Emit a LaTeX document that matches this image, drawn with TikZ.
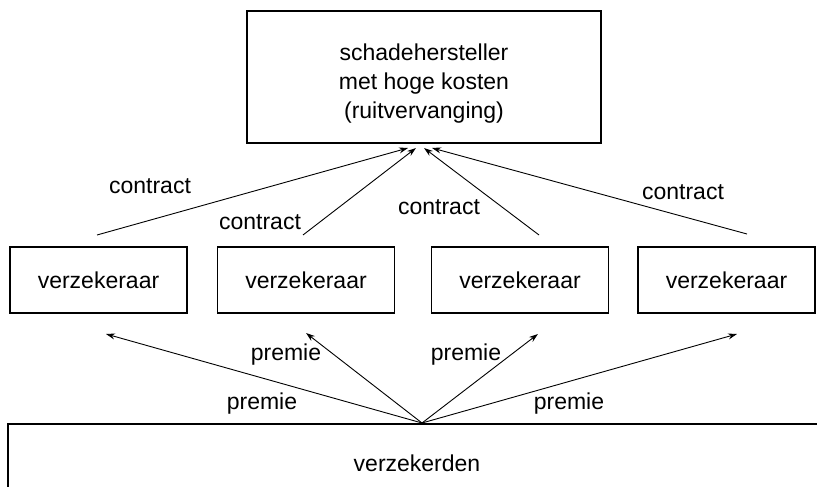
\documentclass[tikz,border=0pt]{standalone}
\usepackage{fontspec}
\setmainfont{Liberation Sans}
\usetikzlibrary{arrows.meta}

\begin{document}
\begin{tikzpicture}[
                        x=1pt,
                        y=-1pt,
                        >={Stealth[length=9pt,width=6pt]},
                        font=\fontsize{23}{27}\selectfont
                    ]
                    \tikzstyle{partij}=[draw=black,line width=1.5pt,text=black,align=center,inner sep=0pt]
                    \tikzstyle{pijl}=[->,line width=0.9pt]
                    \tikzstyle{tekst}=[inner sep=0pt,text=black]

                    \useasboundingbox (0,0) rectangle (817,487);
                    \clip (0,0) rectangle (817,487);

                    \node[partij,minimum width=354pt,minimum height=132pt,font=\fontsize{23}{29}\selectfont] (H) at (424,77)
                        {\rule{0pt}{29pt}schadehersteller\\met hoge kosten\\(ruitvervanging)};
                    \node[partij,minimum width=177pt,minimum height=66pt] (V1) at (98.5,280)  {verzekeraar};
                    \node[partij,minimum width=177pt,minimum height=66pt] (V2) at (306,280)   {verzekeraar};
                    \node[partij,minimum width=177pt,minimum height=66pt] (V3) at (520,280)   {verzekeraar};
                    \node[partij,minimum width=177pt,minimum height=66pt] (V4) at (726.5,280) {verzekeraar};
                    \node[partij,line width=2pt,minimum width=818pt,minimum height=78pt] (K) at (417,463) {verzekerden};

                    \coordinate (c1) at (97,235);
                    \coordinate (c2) at (303,235);
                    \coordinate (c3) at (539,235);
                    \coordinate (c4) at (747,234);
                    \coordinate (h1) at (408,148);
                    \coordinate (h2) at (416,148);
                    \coordinate (h3) at (424,148);
                    \coordinate (h4) at (432,148);
                    \coordinate (top) at (422,423);
                    \coordinate (p1) at (106,334);
                    \coordinate (p2) at (306,333);
                    \coordinate (p3) at (538,334);
                    \coordinate (p4) at (737,334);

                    \path[pijl]
                    (c1)  edge (h1)
                    (c2)  edge (h2)
                    (c3)  edge (h3)
                    (c4)  edge (h4)
                    (top) edge (p1)
                    (top) edge (p2)
                    (top) edge (p3)
                    (top) edge (p4) ;

                    \node[tekst] (k1) at (150,186) {contract};
                    \node[tekst] (k2) at (260,222) {contract};
                    \node[tekst] (k3) at (439,207) {contract};
                    \node[tekst] (k4) at (683,192) {contract};
                    \node[tekst] (m1) at (262,404) {premie};
                    \node[tekst] (m2) at (286,355) {premie};
                    \node[tekst] (m3) at (466,355) {premie};
                    \node[tekst] (m4) at (569,404) {premie};

                \end{tikzpicture}
\end{document}
